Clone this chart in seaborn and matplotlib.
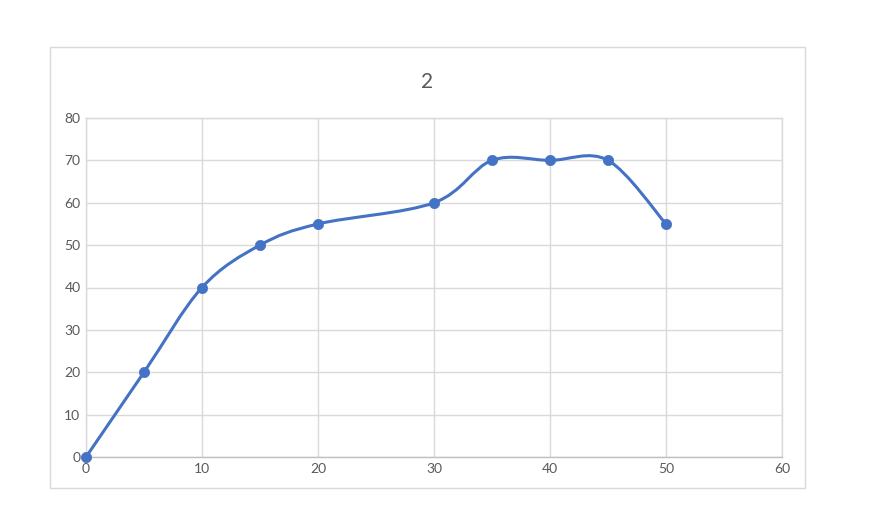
import numpy as np
import pandas as pd
import matplotlib
matplotlib.use("Agg")
import matplotlib.pyplot as plt
from matplotlib.path import Path
from matplotlib.patches import PathPatch, Rectangle
import seaborn as sns

x_vals = [0, 5, 10, 15, 20, 30, 35, 40, 45, 50]
y_vals = [0, 20, 40, 50, 55, 60, 70, 70, 70, 55]
x_ticks = [0, 10, 20, 30, 40, 50, 60]
y_ticks = [0, 10, 20, 30, 40, 50, 60, 70, 80]
title = "2"

sns.set_theme(style="white")
plt.rcParams['font.family'] = ['Lato', 'DejaVu Sans']

color = "#4472C4"
tick_color = "#595959"
grid_color = "#D9D9D9"

fig = plt.figure(figsize=(8.76, 5.21), dpi=100)
fig.patch.set_facecolor("white")
# chart border
fig.patches.append(Rectangle((50/876, 1-488/521), 755/876, 441/521, transform=fig.transFigure,
                             fill=False, edgecolor=grid_color, linewidth=1.0))

ax = fig.add_axes([86/876, 1-457/521, 696/876, 339/521])
df = pd.DataFrame({"x": x_vals, "y": y_vals})

# Excel-like smoothed line via cubic Bezier segments computed from the data
pts = np.column_stack([df["x"].to_numpy(float), df["y"].to_numpy(float)])
verts = [tuple(pts[0])]
codes = [Path.MOVETO]
n = len(pts)
for i in range(n - 1):
    p0 = pts[i - 1] if i > 0 else pts[i]
    p1 = pts[i]
    p2 = pts[i + 1]
    p3 = pts[i + 2] if i + 2 < n else pts[i + 1]
    c1 = p1 + (p2 - p0) / 6.0
    c2 = p2 - (p3 - p1) / 6.0
    verts += [tuple(c1), tuple(c2), tuple(p2)]
    codes += [Path.CURVE4] * 3
ax.add_patch(PathPatch(Path(verts, codes), facecolor="none", edgecolor=color,
                       linewidth=2.2, capstyle="round", zorder=3))

sns.scatterplot(data=df, x="x", y="y", ax=ax, color=color, s=55, edgecolor=color,
                linewidth=0.5, zorder=4, clip_on=False)

ax.set_xlim(0, 60)
ax.set_ylim(0, 80)
ax.set_xticks(x_ticks)
ax.set_yticks(y_ticks)
ax.set_xlabel("")
ax.set_ylabel("")
ax.grid(True, color=grid_color, linewidth=1.0)
ax.set_axisbelow(True)
for s in ["top", "right", "left"]:
    ax.spines[s].set_color(grid_color)
    ax.spines[s].set_linewidth(1.0)
ax.spines["bottom"].set_color("#BFBFBF")
ax.spines["bottom"].set_linewidth(1.0)
ax.tick_params(axis="both", length=0, labelsize=10, colors=tick_color)
ax.tick_params(axis="y", pad=4)
ax.tick_params(axis="x", pad=4)

fig.text(427.5/876, 1-82/521, title, ha="center", va="center", fontsize=15, color=tick_color)

fig.savefig("out.png", dpi=100, facecolor="white")
